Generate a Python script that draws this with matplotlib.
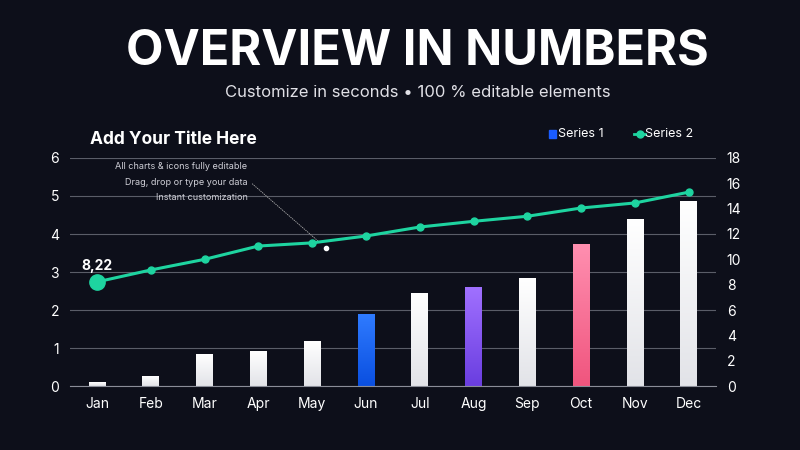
import matplotlib
matplotlib.use("Agg")
import matplotlib.pyplot as plt
import numpy as np
from matplotlib.colors import LinearSegmentedColormap

months = ["Jan","Feb","Mar","Apr","May","Jun","Jul","Aug","Sep","Oct","Nov","Dec"]
series1 = [0.08,0.24,0.82,0.90,1.16,1.87,2.42,2.60,2.84,3.71,4.39,4.84]
series2 = [8.22,9.16,10.0,11.05,11.3,11.84,12.55,13.0,13.4,14.05,14.45,15.3]
bar_grad = {5: ("#2f7bff", "#0a4fe0"), 7: ("#a070ff", "#6a3ee0"), 9: ("#ff8fb0", "#f0557e")}
default_grad = ("#ffffff", "#e2e3e8")

bg = "#0d0f1a"
fig = plt.figure(figsize=(8, 4.5), dpi=100, facecolor=bg)
plt.rcParams['font.family'] = ['Inter', 'DejaVu Sans']
ax = fig.add_axes([0.0875, 0.142, 0.807, 0.507], facecolor=bg)
ax2 = ax.twinx()

x = np.arange(len(months))
w = 0.31
for i, v in enumerate(series1):
    top, bot = bar_grad.get(i, default_grad)
    cmap = LinearSegmentedColormap.from_list("g", [bot, top])
    grad = np.linspace(0, 1, 100).reshape(-1, 1)
    ax.imshow(grad, cmap=cmap, origin="lower", extent=[i - w/2, i + w/2, 0, v],
              aspect="auto", zorder=2)
ax.set_aspect("auto")
ax.set_xlim(-0.5, 11.5)
ax.set_ylim(0, 6)

ax.set_yticks(range(7))
ax.grid(axis="y", color="#5a5d68", linewidth=0.8, zorder=0)
ax.set_axisbelow(True)
ax.set_xticks(x)
ax.set_xticklabels(months)
for a in (ax, ax2):
    for s in a.spines.values():
        s.set_visible(False)
    a.tick_params(colors="white", labelsize=10, length=0, pad=8)
ax.spines["bottom"].set_visible(True)
ax.spines["bottom"].set_color("#8a8d98")

ax2.set_ylim(0, 18)
ax2.set_yticks(range(0, 19, 2))
ax2.plot(x, series2, color="#1ed4a0", linewidth=2.2, marker="o", markersize=5, zorder=5)
ax2.plot([0], [series2[0]], "o", color="#1ed4a0", markersize=11, zorder=6)
ax2.text(0, series2[0] + 0.7, "8,22", color="white", fontsize=10, fontweight="bold", ha="center", va="bottom")

# annotation
ax2.plot([4.25], [10.9], "o", color="white", markersize=3, zorder=7)
ax2.annotate("", xy=(4.15, 11.3), xytext=(2.85, 16.1),
             arrowprops=dict(arrowstyle="-", color="#aaaaaa", lw=0.6, linestyle=":"))
for t, yy in [("All charts & icons fully editable", 17.3), ("Drag, drop or type your data", 16.05),
              ("Instant customization", 14.85)]:
    ax2.text(2.8, yy, t, color="#d0d0d8", fontsize=6.5, ha="right", va="center")

fig.text(0.522, 0.885, "OVERVIEW IN NUMBERS", color="white", fontsize=35, fontweight="bold", ha="center", va="center")
fig.text(0.522, 0.795, "Customize in seconds • 100 % editable elements", color="#e0e0e6", fontsize=12, ha="center", va="center")
fig.text(0.113, 0.69, "Add Your Title Here", color="white", fontsize=12.5, fontweight="bold", ha="left", va="center")

# legend
fig.patches.append(plt.Rectangle((0.686, 0.694), 0.009, 0.017, transform=fig.transFigure, color="#1a5cff"))
fig.text(0.698, 0.703, "Series 1", color="white", fontsize=9, va="center")
fig.lines.append(plt.Line2D([0.793, 0.806], [0.703, 0.703], transform=fig.transFigure, color="#1ed4a0", lw=2))
fig.lines.append(plt.Line2D([0.7995], [0.703], transform=fig.transFigure, color="#1ed4a0", marker="o", markersize=5))
fig.text(0.806, 0.703, "Series 2", color="white", fontsize=9, va="center")

fig.savefig("out.png", dpi=100, facecolor=bg)
